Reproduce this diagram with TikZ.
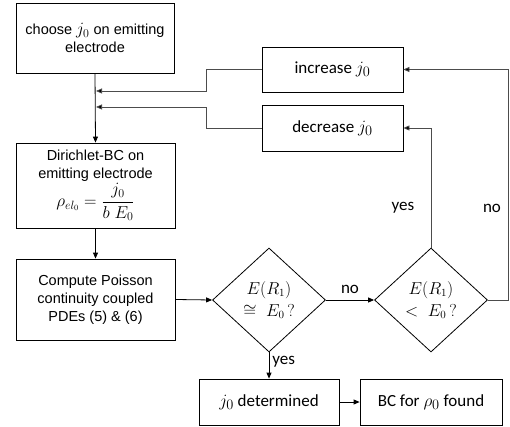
\documentclass[tikz,border=0pt]{standalone}
\usepackage{amsmath}
\usepackage{fontspec}
\setmainfont{Liberation Sans}
\newfontfamily\carfont{Carlito}
\usetikzlibrary{shapes.geometric,arrows.meta}
\newcommand{\lj}{{\fontsize{16.5}{18}\selectfont$j_0$}}
\newcommand{\rj}[1]{{\fontsize{19}{20}\selectfont$#1$}}
\begin{document}
\begin{tikzpicture}[x=1pt,y=-1pt,
  lbox/.style={draw=black,line width=0.8pt,inner sep=2pt,align=center,font=\fontsize{14.5}{18}\selectfont},
  rbox/.style={draw=black,line width=0.8pt,inner sep=2pt,align=center,font=\carfont\fontsize{17}{20}\selectfont},
  dia/.style={draw=black,line width=0.8pt,diamond,inner sep=0pt,align=center,font=\fontsize{16}{19}\selectfont},
  arr/.style={line width=0.8pt,draw=black,-{Triangle[length=6pt,width=5pt]}},
  fb/.style={line width=0.8pt,draw=black!70,-{Triangle[length=6pt,width=5pt,fill=black]}},
  lab/.style={font=\carfont\fontsize{17}{20}\selectfont,inner sep=0pt}]
\useasboundingbox (0,0) rectangle (510,427);
\node[lbox,minimum width=158pt,minimum height=70pt] (b1) at (95,38) {choose \lj{} on emitting\\electrode};
\node[lbox,minimum width=159pt,minimum height=85pt] (b2) at (95.5,185.5) {Dirichlet-BC on\\emitting electrode\\[1pt]{\fontsize{16.5}{18}\selectfont$\rho_{el_0}=\dfrac{j_0}{b\;E_0}$}};
\node[lbox,minimum width=159pt,minimum height=81pt] (b3) at (95.5,299.5) {Compute Poisson\\continuity coupled\\PDEs (5) \& (6)};
\node[rbox,minimum width=141pt,minimum height=45pt] (inc) at (332.5,69.5) {increase \rj{j_0}};
\node[rbox,minimum width=141pt,minimum height=46pt] (dec) at (332.5,128) {decrease \rj{j_0}};
\node[dia,minimum width=113pt,minimum height=104pt] (d1) at (269,300) {$E(R_1)$\\[3pt]$\cong\;E_0\,?$};
\node[dia,minimum width=113pt,minimum height=104pt] (d2) at (431,300) {$E(R_1)$\\[3pt]$<\;E_0\,?$};
\node[rbox,minimum width=140pt,minimum height=46pt] (jd) at (269,402) {\rj{j_0} determined};
\node[rbox,minimum width=142pt,minimum height=46pt] (bc) at (431,402) {BC for \rj{\rho_0} found};
\coordinate (m1) at (96,91);
\coordinate (m2) at (96,107);
\draw[arr] (b1.south) -- (b2.north);
\draw[arr] (b2) -- (b3);
\draw[fb] (inc.west) -- ++(-55,0) |- (m1);
\draw[fb] (dec.west) -- ++(-55,0) |- (m2);
\draw[arr] (b3.east) -- (d1.west);
\draw[arr] (d1.east) -- node[lab,above=6pt] {no} (d2.west);
\draw[arr] (d1.south) -- node[lab,right=3pt,pos=0.35] {yes} (jd.north);
\draw[arr] (jd.east) -- (bc.west);
\draw[fb] (d2.north) |- (dec.east);
\draw[fb] (d2.east) -- ++(20,0) |- (inc.east);
\node[lab] (y2) at (403,208) {yes};
\node[lab] (n2) at (492,208) {no};
\end{tikzpicture}
\end{document}
